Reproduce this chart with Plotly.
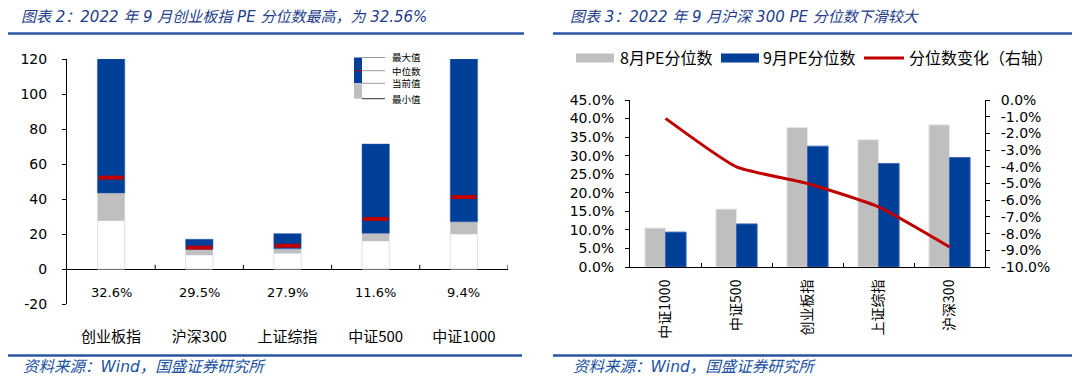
import plotly.graph_objects as go

# ---------------- data ----------------
# Left chart: PE range by index (min / current / max / median)
left_categories = ["创业板指", "沪深300", "上证综指", "中证500", "中证1000"]
pe_min = [27.6, 8.0, 9.0, 16.0, 20.0]
pe_current = [43.4, 11.2, 11.6, 20.4, 27.0]
pe_max = [120.0, 17.0, 20.2, 71.4, 120.0]
pe_median = [52.2, 12.2, 13.3, 28.6, 41.1]
percentile_labels = ["32.6%", "29.5%", "27.9%", "11.6%", "9.4%"]
left_ticks = [-20, 0, 20, 40, 60, 80, 100, 120]

# Right chart: PE percentile Aug vs Sep and change
right_categories = ["中证1000", "中证500", "创业板指", "上证综指", "沪深300"]
aug_pct = [0.105, 0.156, 0.376, 0.343, 0.383]
sep_pct = [0.094, 0.116, 0.3256, 0.279, 0.295]
change_pct = [-0.011, -0.040, -0.050, -0.064, -0.088]
left_pct_ticks = [0.0, 0.05, 0.10, 0.15, 0.20, 0.25, 0.30, 0.35, 0.40, 0.45]
right_pct_ticks = [-0.10, -0.09, -0.08, -0.07, -0.06, -0.05, -0.04, -0.03, -0.02, -0.01, 0.0]

# ---------------- style ----------------
W, H = 1080, 381
OFF = 8  # default page body margin
FW, FH = W - OFF, H - OFF
BLUE = "#003F98"
GRAY = "#BFBFBF"
RED = "#C00000"
TITLE_BLUE = "#233C8C"
LINE_BLUE = "#2A55A5"
NUM_FONT = "DejaVu Sans"
CJK_FONT = "Noto Sans CJK SC"


def X(px):
    return (px - OFF) / FW


def Y(py):
    return 1 - (py - OFF) / FH


def pct_text(v):
    return f"{v * 100:.1f}%".replace("−", "-")


fig = go.Figure()

# ---- left chart: floating stacked bars ----
bar_w = 0.31
fig.add_trace(go.Bar(
    x=left_categories, y=pe_min, base=[0] * len(pe_min),
    width=bar_w, offset=-bar_w / 2,
    marker=dict(color="white", line=dict(color="#DDE1EE", width=1)),
    xaxis="x", yaxis="y", showlegend=False, hoverinfo="skip"))
fig.add_trace(go.Bar(
    x=left_categories, y=[c - m for c, m in zip(pe_current, pe_min)], base=pe_min,
    width=bar_w, offset=-bar_w / 2,
    marker=dict(color=GRAY, line=dict(width=0)),
    xaxis="x", yaxis="y", showlegend=False))
fig.add_trace(go.Bar(
    x=left_categories, y=[mx - c for mx, c in zip(pe_max, pe_current)], base=pe_current,
    width=bar_w, offset=-bar_w / 2,
    marker=dict(color=BLUE, line=dict(color="#2C5DB0", width=0.5)),
    xaxis="x", yaxis="y", showlegend=False))
fig.add_trace(go.Scatter(
    x=left_categories, y=pe_median, mode="markers",
    marker=dict(symbol="line-ew", size=18, line=dict(color=RED, width=4)),
    xaxis="x", yaxis="y", showlegend=False))

# ---- right chart: grouped bars + line ----
rb_w = 0.29
fig.add_trace(go.Bar(
    x=right_categories, y=aug_pct, width=rb_w, offset=-rb_w,
    marker=dict(color=GRAY, line=dict(color="#E6E6E6", width=1)),
    name="8月PE分位数", xaxis="x2", yaxis="y2", showlegend=False))
fig.add_trace(go.Bar(
    x=right_categories, y=sep_pct, width=rb_w, offset=0,
    marker=dict(color=BLUE, line=dict(color="#3A66B5", width=1)),
    name="9月PE分位数", xaxis="x2", yaxis="y2", showlegend=False))
fig.add_trace(go.Scatter(
    x=right_categories, y=change_pct, mode="lines",
    line=dict(color=RED, width=3, shape="spline", smoothing=0.5),
    name="分位数变化（右轴）", xaxis="x2", yaxis="y3", showlegend=False))

shapes = []
annotations = []

# left: x axis at zero with boundary ticks pointing up
for b in [i + 0.5 for i in range(len(left_categories))]:
    shapes.append(dict(type="line", xref="x", yref="y", x0=b, x1=b, y0=0, y1=2.4,
                       line=dict(color="black", width=1)))

# left: percentile labels under bars
for cat, lab in zip(left_categories, percentile_labels):
    annotations.append(dict(x=cat, y=-13.7, xref="x", yref="y", text=lab, showarrow=False,
                            font=dict(family=NUM_FONT, size=13, color="black")))

# left: custom legend
shapes += [
    dict(type="rect", xref="paper", yref="paper", x0=X(354), x1=X(362), y0=Y(83.3), y1=Y(57.5),
         fillcolor=BLUE, line=dict(width=0)),
    dict(type="rect", xref="paper", yref="paper", x0=X(354), x1=X(362), y0=Y(98.7), y1=Y(83.3),
         fillcolor=GRAY, line=dict(width=0)),
    dict(type="line", xref="paper", yref="paper", x0=X(354), x1=X(362), y0=Y(70.7), y1=Y(70.7),
         line=dict(color=RED, width=1)),
]
leg_rows = [("最大值", 57.5, "#9A9A9A"), ("中位数", 70.7, "#9A9A9A"),
            ("当前值", 83.3, "#9A9A9A"), ("最小值", 98.7, "#333333")]
for txt, yy, col in leg_rows:
    shapes.append(dict(type="line", xref="paper", yref="paper", x0=X(362), x1=X(385),
                       y0=Y(yy), y1=Y(yy), line=dict(color=col, width=1)))
    annotations.append(dict(x=X(390), y=Y(yy), xref="paper", yref="paper", text=txt,
                            showarrow=False, xanchor="left", yanchor="middle",
                            font=dict(family=CJK_FONT, size=9.5, color="black")))

# right: custom legend
shapes += [
    dict(type="rect", xref="paper", yref="paper", x0=X(576), x1=X(614), y0=Y(62.5), y1=Y(53.5),
         fillcolor=GRAY, line=dict(width=0)),
    dict(type="rect", xref="paper", yref="paper", x0=X(721), x1=X(759), y0=Y(62.5), y1=Y(53.5),
         fillcolor=BLUE, line=dict(width=0)),
    dict(type="line", xref="paper", yref="paper", x0=X(864), x1=X(904), y0=Y(58), y1=Y(58),
         line=dict(color=RED, width=3)),
]
for txt, xx in [("8月PE分位数", 618), ("9月PE分位数", 761), ("分位数变化（右轴）", 907)]:
    annotations.append(dict(x=X(xx), y=Y(57.5), xref="paper", yref="paper", text=txt,
                            showarrow=False, xanchor="left", yanchor="middle",
                            font=dict(family=CJK_FONT, size=16, color="black")))

# titles, rules and sources
for x0, x1, title, title_x, src_x in [
    (8, 524, "图表 2：2022 年 9 月创业板指 PE 分位数最高，为 32.56%", 19, 21),
    (553, 1074, "图表 3：2022 年 9 月沪深 300 PE 分位数下滑较大", 568, 571),
]:
    annotations.append(dict(x=X(title_x), y=Y(17), xref="paper", yref="paper",
                            text=f"<i>{title}</i>", showarrow=False, xanchor="left",
                            yanchor="middle",
                            font=dict(family=f"{NUM_FONT}, {CJK_FONT}", size=15, color=TITLE_BLUE)))
    shapes.append(dict(type="line", xref="paper", yref="paper", x0=X(x0), x1=X(x1),
                       y0=Y(33.5), y1=Y(33.5), line=dict(color=LINE_BLUE, width=2.5)))
    shapes.append(dict(type="line", xref="paper", yref="paper", x0=X(x0), x1=X(x1 - 2),
                       y0=Y(355.5), y1=Y(355.5), line=dict(color=LINE_BLUE, width=2.5)))
    annotations.append(dict(x=X(src_x), y=Y(367), xref="paper", yref="paper",
                            text="<i>资料来源：Wind，国盛证券研究所</i>", showarrow=False,
                            xanchor="left", yanchor="middle",
                            font=dict(family=f"{NUM_FONT}, {CJK_FONT}", size=15.5, color="#2050A0")))

axis_font = dict(family=NUM_FONT, size=14, color="black")

fig.update_layout(
    width=FW, height=FH,
    autosize=False,
    margin=dict(l=0, r=0, t=0, b=0, pad=0, autoexpand=False),
    paper_bgcolor="white", plot_bgcolor="white",
    barmode="overlay",
    showlegend=False,
    shapes=shapes,
    annotations=annotations,
    xaxis=dict(domain=[X(67), X(508)], anchor="y", type="category", automargin=False,
               range=[-0.5, len(left_categories) - 0.5],
               showline=False, ticks="", showgrid=False, zeroline=False,
               tickfont=dict(family=CJK_FONT, size=15, color="black"),
               ticklabelstandoff=22),
    yaxis=dict(domain=[Y(304), Y(59)], anchor="x", range=[-20, 120], automargin=False,
               tickvals=left_ticks, ticktext=[str(v) for v in left_ticks],
               showline=True, linecolor="black", linewidth=1,
               ticks="outside", ticklen=4, tickcolor="black",
               showgrid=False, zeroline=True, zerolinecolor="black", zerolinewidth=1,
               tickfont=axis_font, ticklabelstandoff=12),
    xaxis2=dict(domain=[X(630), X(985)], anchor="y2", type="category", automargin=False,
                range=[-0.5, len(right_categories) - 0.5],
                showline=True, linecolor="black", linewidth=1,
                ticks="inside", tickson="boundaries", ticklen=4, tickcolor="black",
                showgrid=False, zeroline=False, tickangle=-90,
                tickfont=dict(family=CJK_FONT, size=14, color="black"),
                ticklabelstandoff=6),
    yaxis2=dict(domain=[Y(267), Y(100)], anchor="x2", range=[0, 0.45], automargin=False,
                tickvals=left_pct_ticks, ticktext=[pct_text(v) for v in left_pct_ticks],
                showline=True, linecolor="black", linewidth=1,
                ticks="outside", ticklen=4, tickcolor="black",
                showgrid=False, zeroline=False, tickfont=axis_font, ticklabelstandoff=8),
    yaxis3=dict(overlaying="y2", anchor="x2", side="right", range=[-0.10, 0], automargin=False,
                tickvals=right_pct_ticks, ticktext=[pct_text(v) for v in right_pct_ticks],
                showline=True, linecolor="black", linewidth=1,
                ticks="outside", ticklen=4, tickcolor="black",
                showgrid=False, zeroline=False, tickfont=axis_font, ticklabelstandoff=8),
)

fig.write_html("out.html")
